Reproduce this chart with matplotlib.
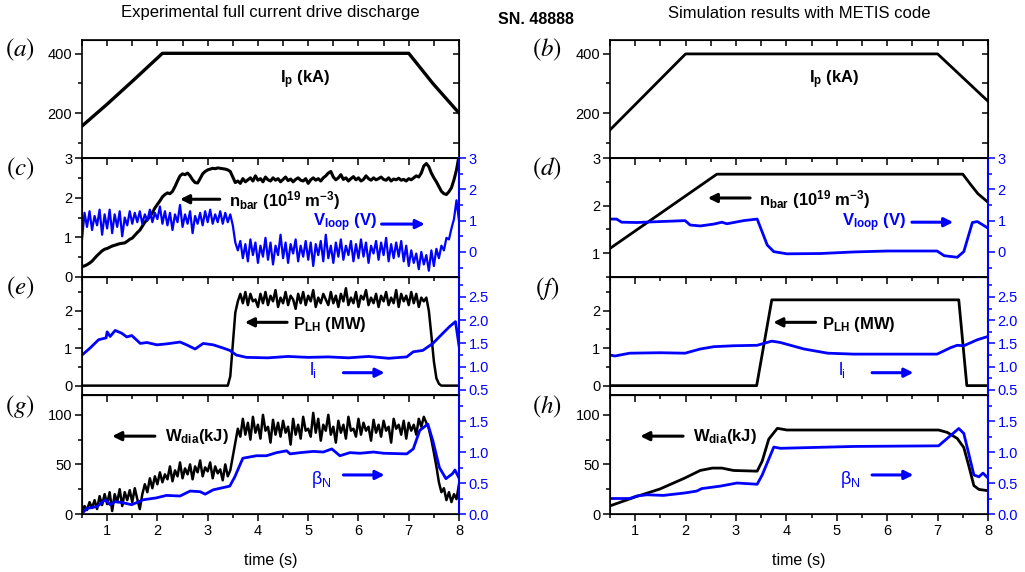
import numpy as np
import matplotlib
matplotlib.use('Agg')
import matplotlib.pyplot as plt
from matplotlib.ticker import MultipleLocator

plt.rcParams['font.family'] = ['Liberation Sans', 'DejaVu Sans']
plt.rcParams['mathtext.fontset'] = 'custom'
plt.rcParams['mathtext.rm'] = 'Liberation Sans'
plt.rcParams['mathtext.it'] = 'Liberation Sans'
plt.rcParams['mathtext.bf'] = 'Liberation Sans:bold'

BLUE = '#0000ff'

# ---------------- experimental data (shot 48888) ----------------
t_exp = np.linspace(0.5, 8.0, 151)

t_ip_exp = [0.5, 1.0, 1.53, 2.1, 7.0, 7.48, 8.0]
ip_exp = [156, 230, 312, 402, 402, 300, 200]

nbar_exp = [
    0.26, 0.28, 0.31, 0.35, 0.40, 0.47, 0.54, 0.60, 0.66, 0.70,
    0.72, 0.75, 0.78, 0.80, 0.82, 0.84, 0.85, 0.86, 0.90, 0.95,
    0.98, 1.05, 1.12, 1.18, 1.28, 1.38, 1.45, 1.52, 1.62, 1.74,
    1.83, 1.92, 2.02, 2.08, 2.12, 2.10, 2.16, 2.28, 2.42, 2.55,
    2.60, 2.58, 2.62, 2.55, 2.45, 2.38, 2.37, 2.48, 2.60, 2.66,
    2.70, 2.72, 2.74, 2.73, 2.75, 2.74, 2.73, 2.72, 2.70, 2.66,
    2.52, 2.38, 2.42, 2.36, 2.48, 2.40, 2.45, 2.50, 2.42, 2.55,
    2.44, 2.48, 2.40, 2.52, 2.45, 2.42, 2.50, 2.44, 2.48, 2.40,
    2.46, 2.52, 2.43, 2.47, 2.40, 2.46, 2.50, 2.44, 2.42, 2.48,
    2.36, 2.45, 2.50, 2.44, 2.48, 2.42, 2.50, 2.55, 2.62, 2.66,
    2.52, 2.45, 2.50, 2.58, 2.46, 2.50, 2.42, 2.48, 2.53, 2.45,
    2.50, 2.42, 2.46, 2.55, 2.48, 2.44, 2.50, 2.45, 2.48, 2.52,
    2.46, 2.44, 2.50, 2.42, 2.47, 2.45, 2.49, 2.44, 2.46, 2.42,
    2.48, 2.45, 2.50, 2.55, 2.52, 2.62, 2.80, 2.86, 2.78, 2.62,
    2.50, 2.40, 2.28, 2.16, 2.10, 2.08, 2.15, 2.25, 2.45, 2.70,
    3.05]

vloop_exp = [
    0.40, 1.25, 0.80, 1.30, 0.70, 1.15, 0.85, 1.35, 0.55, 1.20,
    0.75, 1.35, 0.60, 1.20, 0.80, 1.30, 0.50, 1.10, 0.85, 1.30,
    0.90, 1.25, 0.95, 1.30, 0.90, 1.20, 1.00, 1.35, 0.95, 1.25,
    1.05, 1.45, 0.90, 1.30, 0.85, 1.25, 0.70, 1.20, 0.95, 1.50,
    0.80, 1.20, 0.90, 1.30, 0.60, 1.15, 0.90, 1.25, 0.85, 1.30,
    0.95, 1.35, 0.90, 1.20, 0.95, 1.30, 0.90, 1.25, 0.95, 1.20,
    0.85, 0.30, 0.05, 0.35, -0.20, 0.25, -0.30, 0.40, -0.10, 0.30,
    -0.35, 0.20, -0.15, 0.45, -0.25, 0.30, -0.40, 0.20, -0.10, 0.55,
    -0.20, 0.30, -0.35, 0.25, -0.05, 0.40, -0.30, 0.20, -0.15, 0.35,
    -0.25, 0.30, -0.45, 0.25, -0.10, 0.35, -0.30, 0.55, -0.20, 0.20,
    -0.35, 0.30, -0.15, 0.40, -0.25, 0.20, -0.10, 0.35, -0.30, 0.25,
    -0.20, 0.40, -0.15, 0.30, -0.35, 0.20, -0.05, 0.35, -0.25, 0.30,
    -0.10, 0.45, -0.30, 0.25, -0.20, 0.30, -0.15, 0.35, -0.30, 0.20,
    -0.45, 0.05, -0.35, -0.05, -0.55, 0.00, -0.40, -0.10, -0.60, 0.05,
    -0.45, 0.10, -0.20, 0.20, 0.05, 0.45, 0.40, 0.75, 1.05, 1.65,
    1.00]

plh_exp = [0.0] * 59 + [
    0.25, 1.10, 1.95, 2.25, 2.45, 2.20, 2.50, 2.15, 2.45, 2.25,
    2.30, 2.10, 2.45, 2.20, 2.50, 2.15, 2.40, 2.25, 2.55, 2.10,
    2.35, 2.20, 2.50, 2.15, 2.40, 2.30, 2.05, 2.45, 2.20, 2.50,
    2.15, 2.40, 2.25, 2.55, 2.10, 2.35, 2.20, 2.45, 2.30, 2.15,
    2.50, 2.20, 2.40, 2.10, 2.45, 2.25, 2.60, 2.15, 2.35, 2.20,
    2.50, 2.10, 2.40, 2.30, 2.55, 2.15, 2.35, 2.20, 2.45, 2.10,
    2.40, 2.25, 2.50, 2.15, 2.35, 2.20, 2.55, 2.10, 2.45, 2.25,
    2.40, 2.15, 2.50, 2.20, 2.45, 2.10, 2.35, 2.25,
    2.35, 2.00, 1.35, 0.65, 0.20, 0.05] + [0.0] * 8

wdia_exp = [
    2, 8, 4, 12, 6, 14, 5, 18, 9, 20,
    10, 22, 3, 20, 12, 25, 8, 22, 14, 24,
    12, 26, 15, 5, 20, 30, 22, 36, 26, 38,
    30, 42, 32, 40, 35, 48, 33, 44, 38, 52,
    36, 46, 40, 50, 35, 48, 42, 54, 38, 47,
    43, 52, 36, 48, 41, 45, 34, 50, 38, 44,
    58, 72, 86, 78, 96, 80, 92, 75, 98, 82,
    90, 76, 100, 84, 88, 72, 95, 80, 92, 78,
    94, 82, 88, 70, 96, 80, 90, 76, 98, 84,
    86, 78, 102, 82, 96, 74, 90, 84, 100, 80,
    88, 72, 94, 82, 90, 76, 98, 84, 86, 78,
    96, 80, 92, 84, 88, 74, 95, 82, 90, 78,
    94, 84, 88, 72, 96, 86, 90, 80, 94, 76,
    92, 84, 90, 80, 96, 88, 98, 92, 86, 75,
    62, 48, 32, 22, 26, 14, 22, 12, 20, 15,
    30]

t_li_exp = [0.5, 0.66, 0.83, 0.98, 1.0, 1.06, 1.16, 1.29, 1.39, 1.49, 1.66, 1.79,
            1.99, 2.18, 2.45, 2.58, 2.75, 2.91, 3.11, 3.31, 3.44, 3.57, 3.77, 4.2,
            4.6, 5.0, 5.4, 5.8, 6.2, 6.6, 6.96, 7.09, 7.28, 7.48, 7.68, 7.81,
            7.93, 8.0]
li_exp = [1.25, 1.40, 1.58, 1.62, 1.75, 1.65, 1.78, 1.72, 1.64, 1.67, 1.50, 1.52,
          1.47, 1.49, 1.53, 1.47, 1.38, 1.50, 1.47, 1.40, 1.35, 1.25, 1.20, 1.19,
          1.22, 1.20, 1.21, 1.19, 1.22, 1.18, 1.21, 1.32, 1.35, 1.50, 1.72, 1.86,
          1.97, 1.45]

t_bn_exp = [0.5, 0.6, 0.8, 0.96, 1.06, 1.16, 1.32, 1.49, 1.72, 1.98, 2.18, 2.45,
            2.65, 2.85, 2.95, 3.11, 3.44, 3.54, 3.7, 3.97, 4.17, 4.37, 4.57, 4.64,
            4.84, 5.1, 5.3, 5.47, 5.63, 5.83, 6.03, 6.3, 6.5, 6.96, 7.09, 7.22,
            7.38, 7.48, 7.61, 7.74, 7.87, 7.92, 8.0]
bn_exp = [0.01, 0.09, 0.12, 0.23, 0.15, 0.20, 0.18, 0.15, 0.23, 0.26, 0.30, 0.29,
          0.37, 0.36, 0.32, 0.39, 0.45, 0.60, 0.90, 0.94, 0.94, 0.99, 1.02, 0.97,
          0.99, 1.01, 1.00, 1.05, 0.94, 0.99, 0.98, 1.00, 0.98, 0.97, 1.05, 1.35,
          1.45, 1.18, 0.75, 0.57, 0.65, 0.71, 0.58]

# ---------------- METIS simulation ----------------
t_ip_sim = [0.5, 2.0, 7.0, 8.0]
ip_sim = [143, 400, 400, 240]

t_nbar_sim = [0.5, 2.62, 7.5, 7.65, 7.8, 8.0]
nbar_sim = [1.10, 2.66, 2.66, 2.45, 2.25, 2.07]

t_vloop_sim = [0.5, 0.63, 0.73, 1.03, 1.49, 1.99, 2.09, 2.29, 2.56, 2.72, 2.82,
               3.15, 3.42, 3.62, 3.75, 4.01, 4.68, 5.34, 6.0, 6.99, 7.13, 7.39,
               7.52, 7.69, 7.79, 8.0]
vloop_sim = [1.05, 1.05, 0.95, 0.94, 0.97, 1.00, 0.86, 0.83, 0.89, 0.95, 0.90,
             1.00, 1.05, 0.22, 0.01, -0.06, -0.05, 0.00, 0.03, 0.03, -0.12, -0.17,
             0.01, 0.94, 0.97, 0.76]

t_plh_sim = [0.5, 3.41, 3.71, 7.42, 7.58, 8.0]
plh_sim = [0.0, 0.0, 2.29, 2.29, 0.0, 0.0]

t_li_sim = [0.5, 0.6, 0.89, 1.49, 1.99, 2.29, 2.56, 2.95, 3.42, 3.71, 3.88, 4.35,
            4.82, 5.34, 6.99, 7.26, 7.39, 7.52, 7.79, 8.0]
li_sim = [1.25, 1.23, 1.29, 1.30, 1.29, 1.38, 1.43, 1.45, 1.46, 1.55, 1.52, 1.38,
          1.29, 1.27, 1.27, 1.41, 1.46, 1.45, 1.58, 1.65]

t_wdia_sim = [0.5, 1.03, 1.49, 1.99, 2.29, 2.53, 2.72, 2.95, 3.42, 3.52, 3.65,
              3.82, 4.01, 7.02, 7.19, 7.39, 7.52, 7.62, 7.72, 7.82, 8.0]
wdia_sim = [8.2, 17.7, 25.2, 36.4, 43.9, 46.3, 46.3, 43.9, 43.2, 53.4, 75.5,
            86.4, 84.7, 84.7, 82.3, 76.2, 67.0, 48.3, 28.6, 24.8, 23.5]

t_bn_sim = [0.5, 0.89, 1.03, 1.23, 1.56, 1.99, 2.22, 2.32, 2.69, 3.02, 3.42, 3.52,
            3.75, 3.88, 5.34, 7.02, 7.42, 7.52, 7.72, 7.82, 7.9, 8.0]
bn_sim = [0.25, 0.25, 0.29, 0.31, 0.30, 0.34, 0.37, 0.41, 0.45, 0.50, 0.48, 0.63,
          1.08, 1.06, 1.09, 1.10, 1.38, 1.30, 0.63, 0.60, 0.66, 0.58]

# ---------------- layout ----------------
FW, FH = 1025, 572
fig = plt.figure(figsize=(FW / 100, FH / 100), dpi=100)


def rect(x0, x1, ytop, ybot):
    return [x0 / FW, 1 - ybot / FH, (x1 - x0) / FW, (ybot - ytop) / FH]


def ftext(px, py, s, **kw):
    fig.text(px / FW, 1 - py / FH, s, **kw)


rows = [(40, 158), (158, 277), (277, 395), (395, 514)]
cols = [(82, 459), (610, 988)]

TICK_FS = 10.5
LAB_FS = 12


def style_ax(ax, bottom_row, ylim, major, minor):
    ax.patch.set_visible(False)
    ax.set_xlim(0.5, 8)
    ax.set_ylim(*ylim)
    ax.xaxis.set_major_locator(MultipleLocator(1))
    ax.xaxis.set_minor_locator(MultipleLocator(0.5))
    ax.yaxis.set_major_locator(MultipleLocator(major))
    ax.yaxis.set_minor_locator(MultipleLocator(minor))
    ax.tick_params(which='both', direction='out', labelsize=TICK_FS, width=1.1,
                   right=False, top=False, labelbottom=bottom_row, pad=2)
    ax.tick_params(which='major', length=5)
    ax.tick_params(which='minor', length=3)
    for sp in ax.spines.values():
        sp.set_linewidth(1.2)


def style_twin(tw, ylim, major, minor):
    tw.set_ylim(*ylim)
    tw.yaxis.set_major_locator(MultipleLocator(major))
    tw.yaxis.set_minor_locator(MultipleLocator(minor))
    tw.tick_params(axis='y', which='both', colors=BLUE, direction='out',
                   labelsize=TICK_FS, width=1.1, pad=2)
    tw.tick_params(axis='y', which='major', length=5)
    tw.tick_params(axis='y', which='minor', length=3)
    tw.spines['right'].set_color(BLUE)
    tw.spines['right'].set_linewidth(1.5)


def arrow(ax, tail, tip, color):
    ax.annotate('', xy=tip, xytext=tail,
                arrowprops=dict(arrowstyle='-|>', color=color, lw=2.2,
                                mutation_scale=13, shrinkA=0, shrinkB=0))


axes = {}
for c, (x0, x1) in enumerate(cols):
    for r, (yt, yb) in enumerate(rows):
        axes[(r, c)] = fig.add_axes(rect(x0, x1, yt, yb))

# (a) / (b) plasma current
for c, (tt, yy, lw) in enumerate([(t_ip_exp, ip_exp, 2.4), (t_ip_sim, ip_sim, 2.0)]):
    ax = axes[(0, c)]
    ax.plot(tt, yy, color='black', lw=lw)
    style_ax(ax, False, (48, 447), 200, 100)
    sx = ax.secondary_xaxis('top')
    sx.xaxis.set_major_locator(MultipleLocator(0.5))
    sx.tick_params(direction='in', length=4, labeltop=False, width=1.1)
    sy = ax.secondary_yaxis('right')
    sy.yaxis.set_major_locator(MultipleLocator(100))
    sy.tick_params(direction='in', length=4, labelright=False, width=1.1)
    ax.text(4.95, 312, r'$\mathbf{I_p}$ (kA)', ha='center', va='center',
            fontsize=LAB_FS, fontweight='bold')

# (c) / (d) density and loop voltage
ax = axes[(1, 0)]
ax.plot(t_exp, nbar_exp, color='black', lw=2.2)
style_ax(ax, False, (0, 3), 1, 0.5)
tw = ax.twinx()
tw.plot(t_exp, vloop_exp, color=BLUE, lw=1.6)
style_twin(tw, (-0.8, 3), 1, 0.5)
arrow(ax, (3.24, 1.96), (2.45, 1.96), 'black')
ax.text(3.42, 1.93, r'$\mathbf{n_{bar}\ (10^{19}\ m^{-3})}$', ha='left', va='center', fontsize=LAB_FS)
tw.text(5.1, 0.93, r'$\mathbf{V_{loop}\ (V)}$', ha='left', va='center', color=BLUE, fontsize=LAB_FS)
arrow(tw, (6.46, 0.89), (7.32, 0.89), BLUE)

ax = axes[(1, 1)]
ax.plot(t_nbar_sim, nbar_sim, color='black', lw=2.0)
style_ax(ax, False, (0.5, 3), 1, 0.5)
tw = ax.twinx()
tw.plot(t_vloop_sim, vloop_sim, color=BLUE, lw=2.0)
style_twin(tw, (-0.8, 3), 1, 0.5)
arrow(ax, (3.28, 2.16), (2.44, 2.16), 'black')
ax.text(3.46, 2.12, r'$\mathbf{n_{bar}\ (10^{19}\ m^{-3})}$', ha='left', va='center', fontsize=LAB_FS)
tw.text(5.1, 0.93, r'$\mathbf{V_{loop}\ (V)}$', ha='left', va='center', color=BLUE, fontsize=LAB_FS)
arrow(tw, (6.49, 0.95), (7.31, 0.95), BLUE)

# (e) / (f) LH power and internal inductance
for c, (tp, yp, tl, yl, lwp) in enumerate([(t_exp, plh_exp, t_li_exp, li_exp, 1.8),
                                          (t_plh_sim, plh_sim, t_li_sim, li_sim, 2.0)]):
    ax = axes[(2, c)]
    ax.plot(tp, yp, color='black', lw=lwp)
    style_ax(ax, False, (-0.25, 2.9), 1, 0.5)
    tw = ax.twinx()
    tw.plot(tl, yl, color=BLUE, lw=2.0)
    style_twin(tw, (0.39, 2.93), 0.5, 0.25)
    arrow(ax, (4.58, 1.69), (3.74, 1.69), 'black')
    ax.text(4.7, 1.64, r'$\mathbf{P_{LH}\ (MW)}$', ha='left', va='center', fontsize=LAB_FS)
    tw.text(5.02, 0.92, r'$l_i$', ha='left', va='center', color=BLUE, fontsize=13)
    arrow(tw, (5.7, 0.87), (6.52, 0.87), BLUE)

# (g) / (h) stored energy and normalized beta
for c, (tw_, yw, tb, yb, lww) in enumerate([(t_exp, wdia_exp, t_bn_exp, bn_exp, 1.8),
                                           (t_wdia_sim, wdia_sim, t_bn_sim, bn_sim, 2.0)]):
    ax = axes[(3, c)]
    ax.plot(tw_, yw, color='black', lw=lww)
    style_ax(ax, True, (0, 120), 50, 25)
    tw = ax.twinx()
    tw.plot(tb, yb, color=BLUE, lw=2.0)
    style_twin(tw, (0, 1.92), 0.5, 0.25)
    arrow(ax, (1.95, 78.5), (1.1, 78.5), 'black')
    ax.text(2.15, 78, r'$\mathbf{W_{dia}(kJ)}$', ha='left', va='center', fontsize=LAB_FS)
    tw.text(5.06, 0.56, r'$\beta_N$', ha='left', va='center', color=BLUE, fontsize=13)
    arrow(tw, (5.7, 0.63), (6.52, 0.63), BLUE)
    ax.set_xlabel('time (s)', fontsize=11.5, labelpad=11)

# panel letters
letters = [['a', 'b'], ['c', 'd'], ['e', 'f'], ['g', 'h']]
for r in range(4):
    for c, px in enumerate([20, 547]):
        ftext(px, 50 + 119 * r, '$(%s)$' % letters[r][c], ha='center', va='center',
              fontsize=18, math_fontfamily='stix')

# titles
ftext(270, 13, 'Experimental full current drive discharge', ha='center', va='center', fontsize=12)
ftext(536, 20, 'SN. 48888', ha='center', va='center', fontsize=11.5, fontweight='bold')
ftext(799, 13, 'Simulation results with METIS code', ha='center', va='center', fontsize=12)

fig.savefig('out.png', dpi=100, facecolor='white')
